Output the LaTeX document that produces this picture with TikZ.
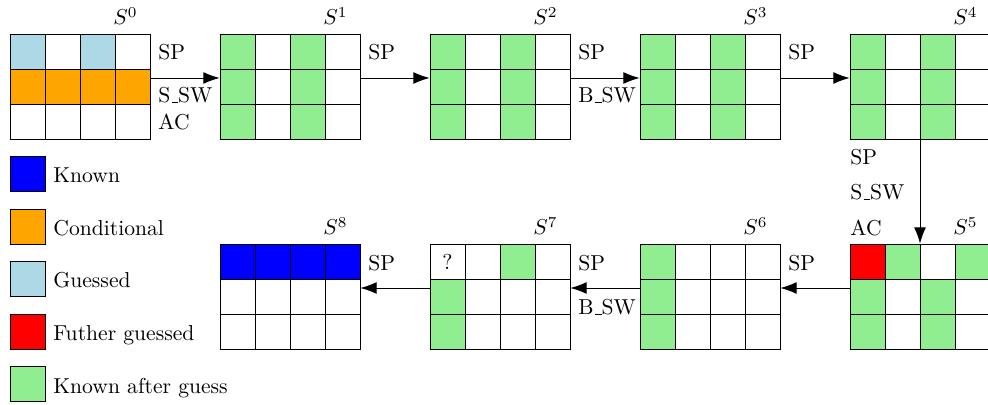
\documentclass[tikz,border=0pt]{standalone}
\usetikzlibrary{arrows.meta,calc}
\definecolor{cknown}{RGB}{0,0,255}
\definecolor{ccond}{RGB}{255,165,0}
\definecolor{cguess}{RGB}{173,216,230}
\definecolor{cfurther}{RGB}{255,0,0}
\definecolor{cafter}{RGB}{144,238,144}
\newcommand{\usc}{\leavevmode\kern.06em\vbox{\hrule width.3em}}
\tikzset{
  gridbox/.style={draw=none,inner sep=0pt,minimum width=64.82pt,minimum height=48.62pt},
  cellline/.style={draw=black,line width=0.4pt},
  arr/.style={-{Latex[length=7.5pt,width=5.5pt]},line width=0.4pt},
  oplabel/.style={anchor=base west,inner sep=0pt},
  statelabel/.style={anchor=base east,inner sep=0pt},
  legsq/.style={draw=black,line width=0.4pt,inner sep=0pt,minimum width=16.2pt,minimum height=16.2pt},
  legtxt/.style={anchor=base west,inner sep=0pt}
}
\newcommand{\stategrid}[4]{%
  \node[gridbox] (#1) at (#2+70,#3+52.5) {};
  \foreach \c [count=\i from 0] in {#4} {
    \pgfmathtruncatemacro\gcol{mod(\i,4)}
    \pgfmathtruncatemacro\grow{floor(\i/4)}
    \draw[cellline,fill=\c] (#2+35*\gcol,#3+35*\grow) rectangle ++(35,35);
  }
}
\begin{document}
\begin{tikzpicture}[x=0.463pt,y=-0.463pt]
\useasboundingbox (0,0) rectangle (988,405);
% top row
\stategrid{S0}{10}{34}{cguess,white,cguess,white,ccond,ccond,ccond,ccond,white,white,white,white}
\stategrid{S1}{220}{34}{cafter,white,cafter,white,cafter,white,cafter,white,cafter,white,cafter,white}
\stategrid{S2}{430}{34}{cafter,white,cafter,white,cafter,white,cafter,white,cafter,white,cafter,white}
\stategrid{S3}{640}{34}{cafter,white,cafter,white,cafter,white,cafter,white,cafter,white,cafter,white}
\stategrid{S4}{850}{34}{cafter,white,cafter,white,cafter,white,cafter,white,cafter,white,cafter,white}
% bottom row
\stategrid{S5}{850}{244}{cfurther,cafter,white,cafter,cafter,white,cafter,white,cafter,white,cafter,white}
\stategrid{S6}{640}{244}{cafter,white,white,white,cafter,white,white,white,cafter,white,white,white}
\stategrid{S7}{430}{244}{white,white,cafter,white,cafter,white,white,white,cafter,white,white,white}
\stategrid{S8}{220}{244}{cknown,cknown,cknown,cknown,white,white,white,white,white,white,white,white}
\node[inner sep=0pt] (q) at (447.5,261.5) {?};
% state labels
\node[statelabel] (l0) at (138,25) {$S^{0}$};
\node[statelabel] (l1) at (348,25) {$S^{1}$};
\node[statelabel] (l2) at (558,25) {$S^{2}$};
\node[statelabel] (l3) at (768,25) {$S^{3}$};
\node[statelabel] (l4) at (978,25) {$S^{4}$};
\node[statelabel] (l5) at (978,235) {$S^{5}$};
\node[statelabel] (l6) at (768,235) {$S^{6}$};
\node[statelabel] (l7) at (558,235) {$S^{7}$};
\node[statelabel] (l8) at (348,235) {$S^{8}$};
% arrows
\draw[arr] ($(S0.east)+(0,-8.5)$) -- ($(S1.west)+(0,-8.5)$);
\draw[arr] ($(S1.east)+(0,-8.5)$) -- ($(S2.west)+(0,-8.5)$);
\draw[arr] ($(S2.east)+(0,-8.5)$) -- ($(S3.west)+(0,-8.5)$);
\draw[arr] ($(S3.east)+(0,-8.5)$) -- ($(S4.west)+(0,-8.5)$);
\draw[arr] (S4.south) -- (S5.north);
\draw[arr] ($(S5.west)+(0,-8.5)$) -- ($(S6.east)+(0,-8.5)$);
\draw[arr] ($(S6.west)+(0,-8.5)$) -- ($(S7.east)+(0,-8.5)$);
\draw[arr] ($(S7.west)+(0,-8.5)$) -- ($(S8.east)+(0,-8.5)$);
% operation labels
\node[oplabel] (a1) at (158,60) {SP};
\node[oplabel] (a2) at (158,103) {S\usc SW};
\node[oplabel] (a3) at (158,130) {AC};
\node[oplabel] (b1) at (368,60) {SP};
\node[oplabel] (c1) at (578,60) {SP};
\node[oplabel] (c2) at (578,103) {B\usc SW};
\node[oplabel] (d1) at (788,60) {SP};
\node[oplabel] (e1) at (850,165) {SP};
\node[oplabel] (e2) at (850,200) {S\usc SW};
\node[oplabel] (e3) at (850,236) {AC};
\node[oplabel] (f1) at (788,271) {SP};
\node[oplabel] (g1) at (578,271) {SP};
\node[oplabel] (g2) at (578,315) {B\usc SW};
\node[oplabel] (h1) at (368,271) {SP};
% legend
\node[legsq,fill=cknown] (k1) at (27.5,174) {};
\node[legsq,fill=ccond] (k2) at (27.5,226.5) {};
\node[legsq,fill=cguess] (k3) at (27.5,279) {};
\node[legsq,fill=cfurther] (k4) at (27.5,331.5) {};
\node[legsq,fill=cafter] (k5) at (27.5,384) {};
\node[legtxt] (t1) at (53,183) {Known};
\node[legtxt] (t2) at (53,235.5) {Conditional};
\node[legtxt] (t3) at (53,288) {Guessed};
\node[legtxt] (t4) at (53,340.5) {Futher guessed};
\node[legtxt] (t5) at (53,393) {Known after guess};
\end{tikzpicture}
\end{document}
